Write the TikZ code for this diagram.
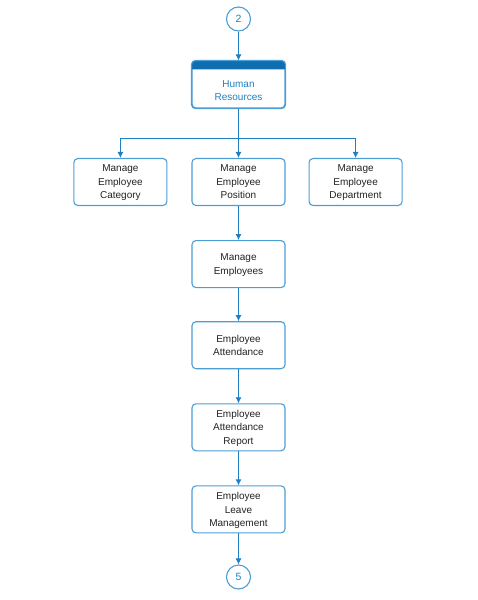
\documentclass[tikz,border=0pt]{standalone}
\usepackage{fontspec}
\setmainfont{Liberation Sans}
\usepackage{tikz}
\usetikzlibrary{positioning,arrows.meta}

\definecolor{boxblue}{HTML}{4D9DD5}
\definecolor{lineblue}{HTML}{1F7FC0}
\definecolor{hdrblue}{HTML}{0F6EB0}
\definecolor{txtgray}{HTML}{222222}

\tikzset{
    stepbox/.style={draw=boxblue, line width=1.1pt, rounded corners=4pt, minimum width=93pt,
        minimum height=47pt, align=center, text=txtgray, font=\fontsize{10}{13.5}\selectfont,
        text depth=-2.5pt},
    connector/.style={draw=boxblue, line width=1.1pt, circle, minimum size=24pt, inner sep=0pt,
        text=lineblue, font=\fontsize{10.5}{12}\selectfont},
    flow/.style={draw=lineblue, line width=0.9pt, -{Latex[length=6pt,width=6pt]}}
}

\begin{document}
\begin{tikzpicture}[x=1pt, y=1pt]
    \useasboundingbox (0,0) rectangle (477,-600);

    \node [connector] (conn_in) at (238.5, -19) {2};
    \node [stepbox] (hr) at (238.5, -84.5) {};
    \fill [hdrblue] ([yshift=-9pt]hr.north west) [rounded corners=4pt] -- (hr.north west) -- (hr.north east) [sharp corners] -- ([yshift=-9pt]hr.north east) -- cycle;
    \draw [boxblue, line width=1.1pt, rounded corners=4pt] (hr.north west) rectangle (hr.south east);
    \node [align=center, text=lineblue, font=\fontsize{10}{13.5}\selectfont] (hr_label) at ([yshift=-8pt]hr.center) {Human\\Resources\strut};

    \node [stepbox] (position) at (238.5, -182) {Manage\\Employee\\Position};
    \node [stepbox, left=24pt of position] (category) {Manage\\Employee\\Category};
    \node [stepbox, right=23pt of position] (department) {Manage\\Employee\\Department};

    \node [stepbox, below=34pt of position] (employees) {Manage\\Employees};
    \node [stepbox, below=33pt of employees] (attendance) {Employee\\Attendance};
    \node [stepbox, below=34pt of attendance] (report) {Employee\\Attendance\\Report};
    \node [stepbox, below=34pt of report] (leave) {Employee\\Leave\\Management};
    \node [connector] (conn_out) at (238.5, -577) {5};

    \coordinate (branch) at (238.5, -138);

    \draw [flow] (conn_in) -- (hr);
    \draw [flow] (hr) -- (position);
    \draw [flow] (branch) -| (category);
    \draw [flow] (branch) -| (department);
    \draw [flow] (position) -- (employees);
    \draw [flow] (employees) -- (attendance);
    \draw [flow] (attendance) -- (report);
    \draw [flow] (report) -- (leave);
    \draw [flow] (leave) -- (conn_out);

\end{tikzpicture}
\end{document}
